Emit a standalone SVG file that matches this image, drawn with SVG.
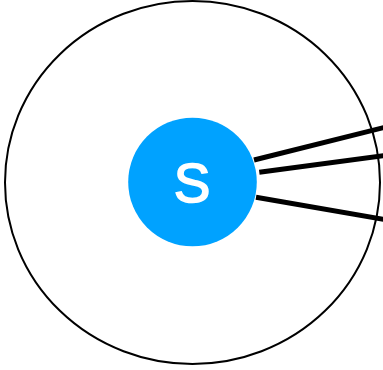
<svg xmlns="http://www.w3.org/2000/svg" width="383" height="370" viewBox="0 0 383 370">
<style>
.edge{stroke:#000;stroke-width:5;fill:none}
.label{font-family:"Liberation Sans",Arial,sans-serif;font-size:55px;fill:#fff;stroke:#fff;stroke-width:1.6;text-anchor:middle}
</style>
<rect width="383" height="370" fill="#fff"/>
<g id="outer"><ellipse cx="192.5" cy="182.5" rx="187.5" ry="181.5" fill="none" stroke="#000" stroke-width="2"/></g>
<g id="connectors">
<line class="edge" x1="254" y1="160" x2="390" y2="126"/>
<line class="edge" x1="259.3" y1="172.3" x2="390" y2="154.8"/>
<line class="edge" x1="256" y1="197.3" x2="390" y2="220.5"/>
</g>
<g id="S"><circle cx="192.5" cy="182" r="64.3" fill="#00a2ff"/><text class="label" x="192" y="202">S</text></g>
</svg>
